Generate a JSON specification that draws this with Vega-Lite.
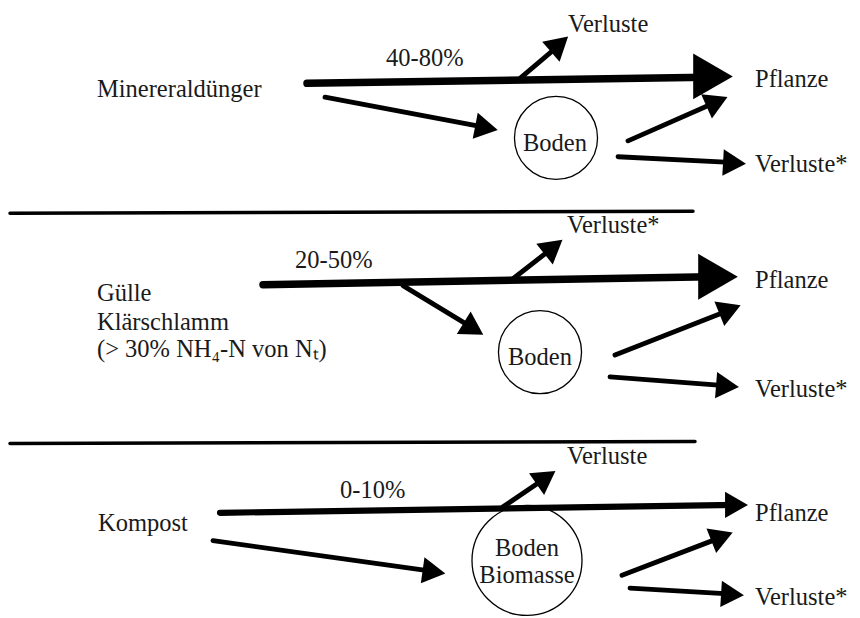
{
  "$schema": "https://vega.github.io/schema/vega-lite/v6.json",
  "width": 860,
  "height": 618,
  "autosize": {"type": "fit", "contains": "padding"},
  "padding": 0,
  "background": "white",
  "config": {"view": {"stroke": null}},
  "datasets": {
    "lines": [
      {"x": 307, "y": 84, "x2": 706, "y2": 78, "weight": "thick"},
      {"x": 520, "y": 79, "x2": 561, "y2": 44, "weight": "thin"},
      {"x": 325, "y": 98, "x2": 488, "y2": 129, "weight": "thin"},
      {"x": 628, "y": 142, "x2": 718, "y2": 102, "weight": "thin"},
      {"x": 618, "y": 158, "x2": 735, "y2": 164, "weight": "thin"},
      {"x": 10, "y": 215, "x2": 693, "y2": 213, "weight": "hair"},
      {"x": 263, "y": 287, "x2": 710, "y2": 279, "weight": "thick"},
      {"x": 513, "y": 281, "x2": 555, "y2": 248, "weight": "thin"},
      {"x": 403, "y": 288, "x2": 475, "y2": 332, "weight": "thin"},
      {"x": 615, "y": 358, "x2": 731, "y2": 312, "weight": "thin"},
      {"x": 610, "y": 380, "x2": 728, "y2": 389, "weight": "thin"},
      {"x": 10, "y": 447, "x2": 695, "y2": 445, "weight": "hair"},
      {"x": 220, "y": 517, "x2": 737, "y2": 509, "weight": "medium"},
      {"x": 503, "y": 511, "x2": 547, "y2": 481, "weight": "thin"},
      {"x": 213, "y": 545, "x2": 433, "y2": 576, "weight": "thin"},
      {"x": 622, "y": 580, "x2": 723, "y2": 541, "weight": "thin"},
      {"x": 630, "y": 593, "x2": 733, "y2": 599, "weight": "thin"}
    ],
    "heads": [
      {"x": 713, "y": 77, "dir": 90, "kind": "bighead"},
      {"x": 559.5, "y": 44.5, "dir": 48.8, "kind": "head"},
      {"x": 486.5, "y": 129, "dir": 100.9, "kind": "head"},
      {"x": 717, "y": 102.5, "dir": 66, "kind": "head"},
      {"x": 734.5, "y": 164.5, "dir": 93.2, "kind": "head"},
      {"x": 718, "y": 279, "dir": 90, "kind": "bighead"},
      {"x": 553.5, "y": 249, "dir": 51.5, "kind": "head"},
      {"x": 473.5, "y": 331.5, "dir": 121.5, "kind": "head"},
      {"x": 730, "y": 312, "dir": 68.2, "kind": "head"},
      {"x": 727.5, "y": 389.2, "dir": 94.5, "kind": "head"},
      {"x": 736.5, "y": 509, "dir": 90, "kind": "head"},
      {"x": 546, "y": 481.5, "dir": 55.3, "kind": "head"},
      {"x": 434, "y": 576.5, "dir": 97.9, "kind": "head"},
      {"x": 722, "y": 541, "dir": 68.6, "kind": "head"},
      {"x": 732.5, "y": 599.4, "dir": 93.5, "kind": "head"}
    ],
    "nodes": [
      {"x": 556, "y": 139, "kind": "node"},
      {"x": 540, "y": 355, "kind": "node"},
      {"x": 527, "y": 565, "kind": "bignode"}
    ],
    "labels": [
      {"x": 97, "y": 88, "label": "Minereraldünger"},
      {"x": 386, "y": 56, "label": "40-80%"},
      {"x": 568, "y": 22, "label": "Verluste"},
      {"x": 755, "y": 78, "label": "Pflanze"},
      {"x": 755, "y": 163, "label": "Verluste*"},
      {"x": 295, "y": 260, "label": "20-50%"},
      {"x": 567, "y": 225, "label": "Verluste*"},
      {"x": 755, "y": 280, "label": "Pflanze"},
      {"x": 97, "y": 293, "label": "Gülle"},
      {"x": 97, "y": 323, "label": "Klärschlamm"},
      {"x": 97, "y": 350, "label": "(> 30% NH₄-N von Nₜ)"},
      {"x": 755, "y": 390, "label": "Verluste*"},
      {"x": 340, "y": 492, "label": "0-10%"},
      {"x": 567, "y": 458, "label": "Verluste"},
      {"x": 755, "y": 515, "label": "Pflanze"},
      {"x": 98, "y": 525, "label": "Kompost"},
      {"x": 755, "y": 600, "label": "Verluste*"}
    ],
    "inner": [
      {"x": 555, "y": 142, "label": "Boden"},
      {"x": 540, "y": 358, "label": "Boden"},
      {"x": 527, "y": 550, "label": "Boden"},
      {"x": 527, "y": 578, "label": "Biomasse"}
    ]
  },
  "layer": [
    {
      "data": {"name": "lines"},
      "mark": {"type": "rule", "color": "#000", "strokeCap": "round"},
      "encoding": {
        "x": {"field": "x", "type": "quantitative", "scale": {"domain": [0, 860], "nice": false, "zero": false}, "axis": null},
        "y": {"field": "y", "type": "quantitative", "scale": {"domain": [0, 618], "reverse": true, "nice": false, "zero": false}, "axis": null},
        "x2": {"field": "x2"},
        "y2": {"field": "y2"},
        "strokeWidth": {"field": "weight", "type": "ordinal", "scale": {"domain": ["thick", "medium", "thin", "hair"], "range": [7.5, 3.5, 2.6, 1.2]}, "legend": null}
      }
    },
    {
      "data": {"name": "heads"},
      "transform": [{"filter": "datum.kind === 'bighead'"}],
      "mark": {"type": "point", "shape": "triangle-up", "filled": true, "color": "#000", "opacity": 1, "strokeWidth": 0, "size": 2100},
      "encoding": {
        "x": {"field": "x", "type": "quantitative", "scale": {"domain": [0, 860], "nice": false, "zero": false}, "axis": null},
        "y": {"field": "y", "type": "quantitative", "scale": {"domain": [0, 618], "reverse": true, "nice": false, "zero": false}, "axis": null},
        "angle": {"field": "dir", "type": "quantitative", "scale": null}
      }
    },
    {
      "data": {"name": "heads"},
      "transform": [{"filter": "datum.kind === 'head'"}],
      "mark": {"type": "point", "shape": "triangle-up", "filled": true, "color": "#000", "opacity": 1, "strokeWidth": 0, "size": 700},
      "encoding": {
        "x": {"field": "x", "type": "quantitative", "scale": {"domain": [0, 860], "nice": false, "zero": false}, "axis": null},
        "y": {"field": "y", "type": "quantitative", "scale": {"domain": [0, 618], "reverse": true, "nice": false, "zero": false}, "axis": null},
        "angle": {"field": "dir", "type": "quantitative", "scale": null}
      }
    },
    {
      "data": {"name": "nodes"},
      "transform": [{"filter": "datum.kind === 'node'"}],
      "mark": {"type": "point", "shape": "circle", "filled": false, "stroke": "#000", "strokeWidth": 1.3, "opacity": 1, "size": 6900},
      "encoding": {
        "x": {"field": "x", "type": "quantitative", "scale": {"domain": [0, 860], "nice": false, "zero": false}, "axis": null},
        "y": {"field": "y", "type": "quantitative", "scale": {"domain": [0, 618], "reverse": true, "nice": false, "zero": false}, "axis": null}
      }
    },
    {
      "data": {"name": "nodes"},
      "transform": [{"filter": "datum.kind === 'bignode'"}],
      "mark": {"type": "point", "shape": "circle", "filled": false, "stroke": "#000", "strokeWidth": 1.3, "opacity": 1, "size": 12100},
      "encoding": {
        "x": {"field": "x", "type": "quantitative", "scale": {"domain": [0, 860], "nice": false, "zero": false}, "axis": null},
        "y": {"field": "y", "type": "quantitative", "scale": {"domain": [0, 618], "reverse": true, "nice": false, "zero": false}, "axis": null}
      }
    },
    {
      "data": {"name": "labels"},
      "mark": {"type": "text", "align": "left", "baseline": "middle", "dy": 3, "font": "Liberation Serif", "fontSize": 24.5, "color": "#1a1a1a"},
      "encoding": {
        "x": {"field": "x", "type": "quantitative", "scale": {"domain": [0, 860], "nice": false, "zero": false}, "axis": null},
        "y": {"field": "y", "type": "quantitative", "scale": {"domain": [0, 618], "reverse": true, "nice": false, "zero": false}, "axis": null},
        "text": {"field": "label"}
      }
    },
    {
      "data": {"name": "inner"},
      "mark": {"type": "text", "align": "center", "baseline": "middle", "dy": 3, "font": "Liberation Serif", "fontSize": 24.5, "color": "#1a1a1a"},
      "encoding": {
        "x": {"field": "x", "type": "quantitative", "scale": {"domain": [0, 860], "nice": false, "zero": false}, "axis": null},
        "y": {"field": "y", "type": "quantitative", "scale": {"domain": [0, 618], "reverse": true, "nice": false, "zero": false}, "axis": null},
        "text": {"field": "label"}
      }
    }
  ]
}
